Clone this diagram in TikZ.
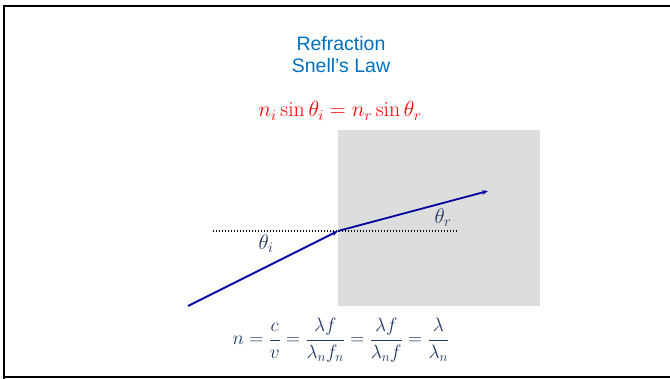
\RequirePackage{fix-cm}
\documentclass[tikz,border=0pt]{standalone}
\usepackage{fontspec}
\setsansfont{Liberation Sans}
\usetikzlibrary{arrows.meta}
\definecolor{rayblue}{RGB}{0,0,160}
\definecolor{navy}{RGB}{31,56,100}
\definecolor{titleblue}{RGB}{0,112,192}
\definecolor{boxgray}{RGB}{221,221,221}
\tikzset{
  frameline/.style={line width=2pt, black},
  ray/.style={rayblue, line width=1.8pt, -{Stealth[length=6pt,width=4.5pt]}},
  normalline/.style={black, line width=1.3pt, dash pattern=on 1.3pt off 1.7pt},
  titletext/.style={font=\sffamily\fontsize{19.5}{22}\selectfont, text=titleblue, anchor=base, inner sep=0pt},
  anglelabel/.style={text=navy, font=\fontsize{21}{24}\selectfont, inner sep=0pt},
}
\begin{document}
\begin{tikzpicture}[x=1pt,y=-1pt]
\useasboundingbox (0,0) rectangle (670,379);
\fill[white] (0,0) rectangle (670,379);
\draw[frameline] (4,379) -- (4,6) -- (670,6);
\draw[frameline] (3,377) -- (670,377);

\node[titletext] (t1) at (341,51) {Refraction};
\node[titletext] (t2) at (341,73) {Snell’s Law};

\node[text=red, font=\fontsize{21.8}{25}\selectfont, anchor=base, inner sep=0pt] (snell) at (340,117)
  {$n_i \sin\theta_i = n_r \sin\theta_r$};

\node[fill=boxgray, minimum width=202pt, minimum height=176pt, anchor=north west, inner sep=0pt] (medium) at (338,130) {};

\coordinate (dl) at (213,231);
\coordinate (dr) at (458,231);
\coordinate (src) at (188,306);
\coordinate (hit) at (338,231);
\coordinate (dst) at (488,191);

\draw[normalline] (dl) -- (dr);
\draw[ray] (src) -- (hit);
\draw[ray] (hit) -- (dst);

\node[anglelabel] (thi) at (266,244) {$\theta_i$};
\node[anglelabel] (thr) at (443,218) {$\theta_r$};

\node[text=navy, font=\fontsize{19.3}{23}\selectfont, anchor=base, inner sep=0pt] (index) at (341,345)
  {$\displaystyle n = \frac{c}{v} = \frac{\lambda f}{\lambda_n f_n} = \frac{\lambda f}{\lambda_n f} = \frac{\lambda}{\lambda_n}$};
\end{tikzpicture}
\end{document}
